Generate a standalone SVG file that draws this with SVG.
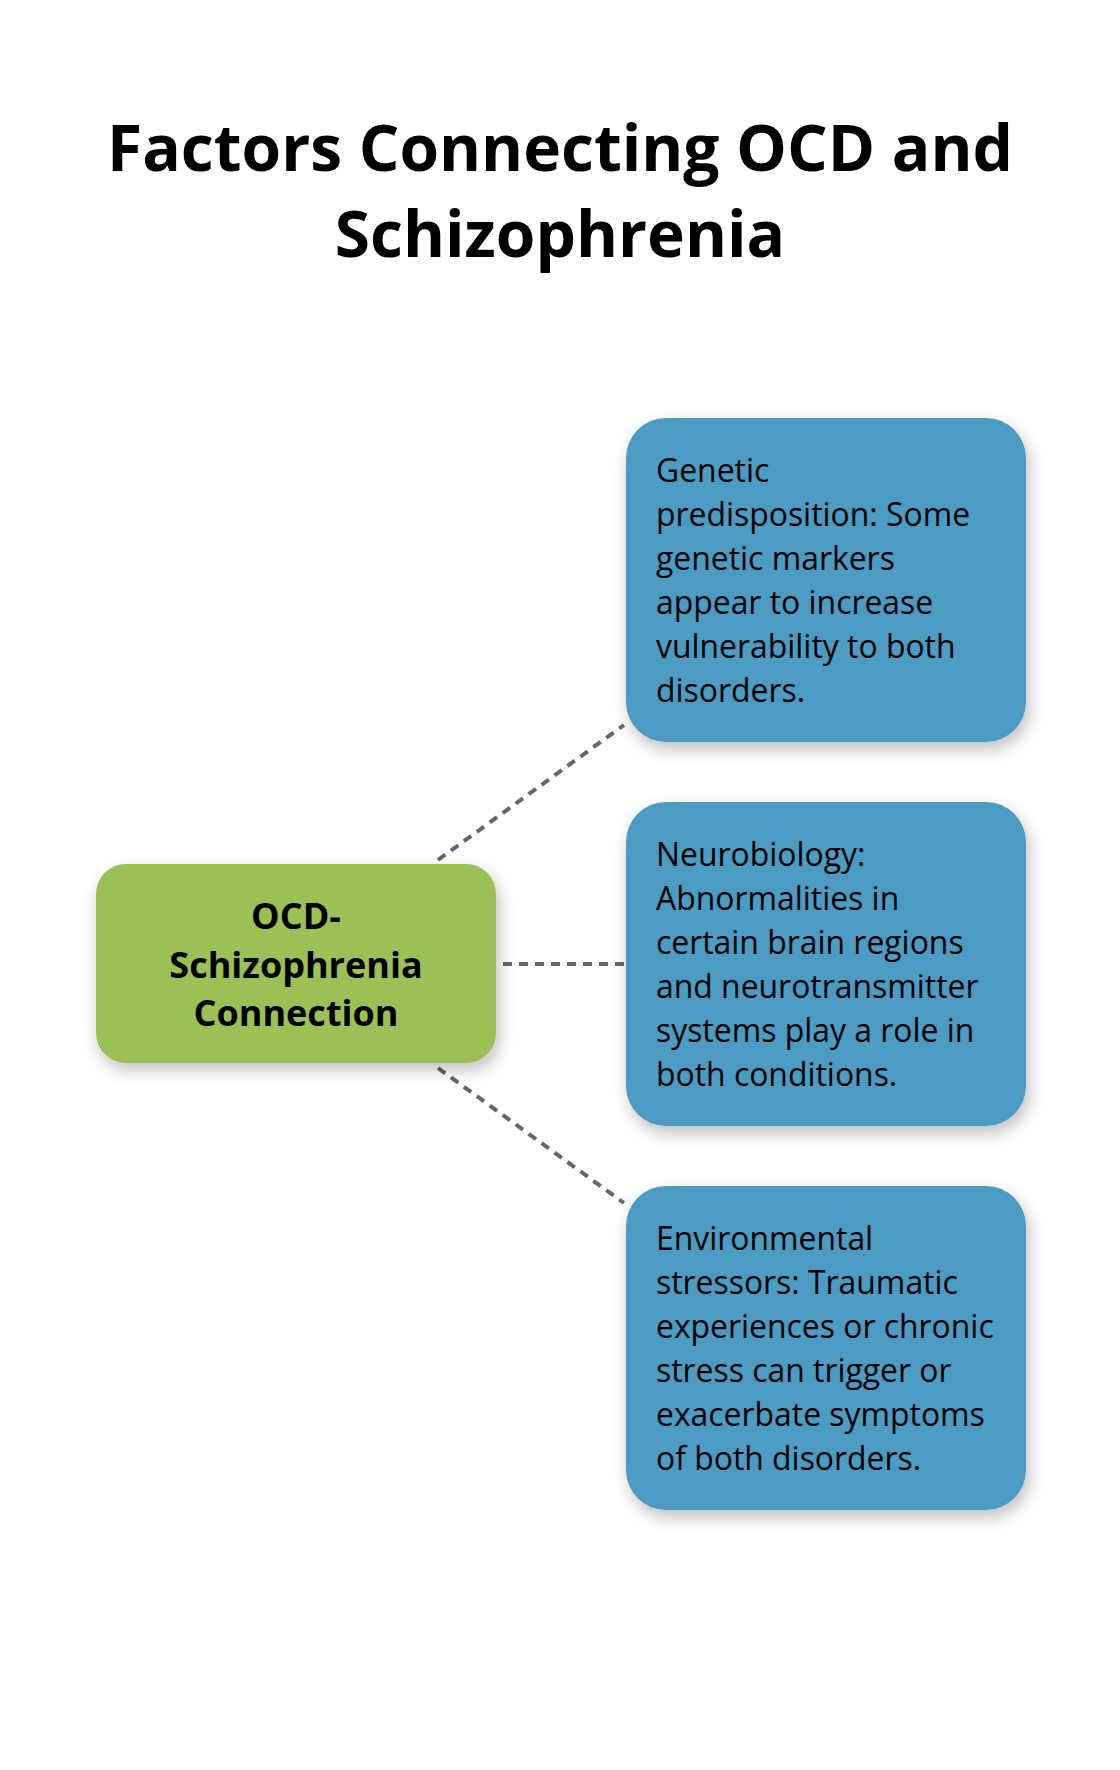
<svg xmlns="http://www.w3.org/2000/svg" width="1120" height="1770" viewBox="0 0 1120 1770">
<defs>
<style>
.title{font-family:"Open Sans","Liberation Sans",sans-serif;font-weight:700;font-size:64px;fill:#000;text-anchor:middle}
.ctext{font-family:"Open Sans","Liberation Sans",sans-serif;font-weight:700;font-size:36px;fill:#000;text-anchor:middle}
.btext{font-family:"Open Sans","Liberation Sans",sans-serif;font-size:31.9px;fill:#000}
.blue{fill:#4B9BC3}
.green{fill:#9BC057}
.conn{stroke:#666;stroke-width:4;stroke-dasharray:9 7;fill:none}
</style>
<filter id="sh" x="-20%" y="-20%" width="140%" height="150%">
<feDropShadow dx="3" dy="7" stdDeviation="8" flood-color="#000" flood-opacity="0.25"/>
</filter>
</defs>
<rect width="1120" height="1770" fill="#fff"/>
<g id="title">
<text class="title" x="560" y="171">Factors Connecting OCD and</text>
<text class="title" x="560" y="257">Schizophrenia</text>
</g>
<g id="connectors">
<line class="conn" x1="438" y1="860" x2="624" y2="725"/>
<line class="conn" x1="503" y1="964" x2="624" y2="964"/>
<line class="conn" x1="438" y1="1068" x2="624" y2="1203"/>
</g>
<g id="center">
<rect class="green" x="96" y="864" width="400" height="199" rx="30" filter="url(#sh)"/>
<text class="ctext" x="296" y="929">OCD-</text>
<text class="ctext" x="296" y="977.5">Schizophrenia</text>
<text class="ctext" x="296" y="1026">Connection</text>
</g>
<g id="genetic">
<rect class="blue" x="626" y="418" width="400" height="324" rx="40" filter="url(#sh)"/>
<text class="btext" x="656" y="482">Genetic</text>
<text class="btext" x="656" y="526">predisposition: Some</text>
<text class="btext" x="656" y="570">genetic markers</text>
<text class="btext" x="656" y="614">appear to increase</text>
<text class="btext" x="656" y="658">vulnerability to both</text>
<text class="btext" x="656" y="702">disorders.</text>
</g>
<g id="neuro">
<rect class="blue" x="626" y="802" width="400" height="324" rx="40" filter="url(#sh)"/>
<text class="btext" x="656" y="866">Neurobiology:</text>
<text class="btext" x="656" y="910">Abnormalities in</text>
<text class="btext" x="656" y="954">certain brain regions</text>
<text class="btext" x="656" y="998">and neurotransmitter</text>
<text class="btext" x="656" y="1042">systems play a role in</text>
<text class="btext" x="656" y="1086">both conditions.</text>
</g>
<g id="environment">
<rect class="blue" x="626" y="1186" width="400" height="324" rx="40" filter="url(#sh)"/>
<text class="btext" x="656" y="1250">Environmental</text>
<text class="btext" x="656" y="1294">stressors: Traumatic</text>
<text class="btext" x="656" y="1338">experiences or chronic</text>
<text class="btext" x="656" y="1382">stress can trigger or</text>
<text class="btext" x="656" y="1426">exacerbate symptoms</text>
<text class="btext" x="656" y="1470">of both disorders.</text>
</g>
</svg>
